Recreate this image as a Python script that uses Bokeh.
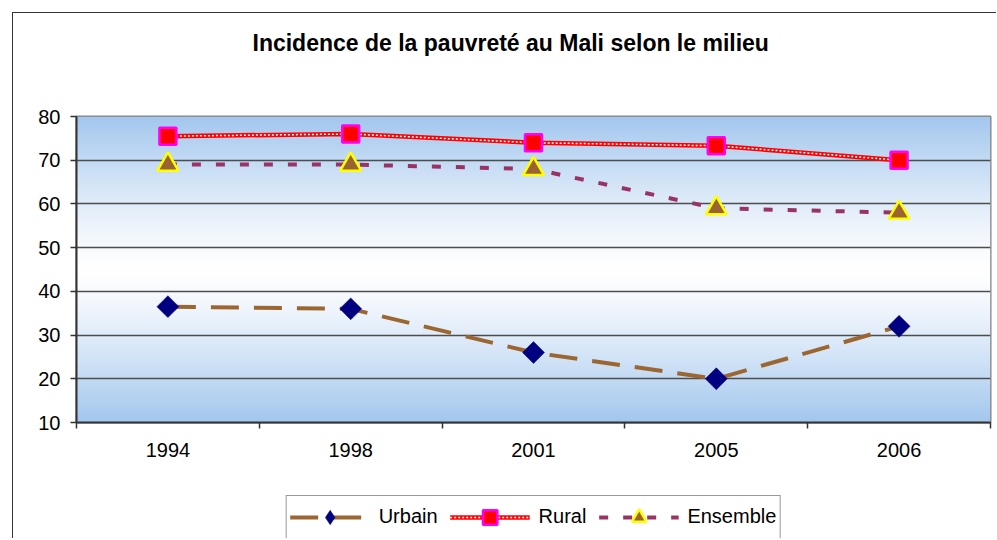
import numpy as np
from bokeh.plotting import figure
from bokeh.layouts import column
from bokeh.models import (Range1d, FixedTicker, Legend, LegendItem, Title)
from bokeh.embed import file_html
from bokeh.resources import INLINE

# ---- data ----
years = ["1994", "1998", "2001", "2005", "2006"]
urbain = [36.5, 36.0, 26.0, 20.0, 32.0]
rural = [75.5, 76.0, 74.0, 73.3, 70.0]
ensemble = [69.0, 69.0, 68.0, 59.0, 58.0]
y_ticks = [10, 20, 30, 40, 50, 60, 70, 80]
title_text = "Incidence de la pauvreté au Mali selon le milieu"

FONT = "Liberation Sans"
BROWN = "#9c6632"
PURPLE = "#993366"
n = len(years)
xs = np.arange(n) + 0.5

p = figure(frame_width=914, frame_height=306, output_backend="svg",
           toolbar_location=None,
           x_range=Range1d(0, n), y_range=Range1d(y_ticks[0], y_ticks[-1]),
           min_border_left=63, min_border_right=6, min_border_top=103,
           min_border_bottom=60)
p.background_fill_color = "white"
p.border_fill_color = "white"
p.outline_line_color = "#808080"
p.outline_line_width = 2

# title (spacer first = closest to the frame, then the title above it)
p.add_layout(Title(text=" ", text_font=FONT, text_font_size="20px",
                   standoff=36), "above")
p.add_layout(Title(text=title_text, text_font=FONT, text_font_size="23px",
                   text_font_style="bold", text_color="black", align="left",
                   offset=176, standoff=0, vertical_align="middle"), "above")

# background gradient (blue - white - blue)
N = 300
t = np.linspace(0, 1, N)
w = np.abs(2 * t - 1) ** 1.3
blue = np.array([163, 199, 238])
rgb = (255 * (1 - w[:, None]) + blue[None, :] * w[:, None]).astype(np.uint32)
img = np.zeros((N, 1), dtype=np.uint32)
img[:, 0] = (255 << 24) | (rgb[:, 2] << 16) | (rgb[:, 1] << 8) | rgb[:, 0]
p.image_rgba(image=[img], x=0, y=y_ticks[0], dw=n, dh=y_ticks[-1] - y_ticks[0],
             level="image")

# axes
p.xaxis.ticker = FixedTicker(ticks=list(xs), minor_ticks=list(range(n + 1)))
p.xaxis.major_label_overrides = {float(x): y for x, y in zip(xs, years)}
p.xaxis.minor_tick_in = 0
p.xaxis.minor_tick_out = 6
p.xaxis.minor_tick_line_color = "#333333"
p.xaxis.minor_tick_line_width = 1.5
p.yaxis.ticker = FixedTicker(ticks=y_ticks)
p.yaxis.major_tick_in = 0
p.yaxis.major_tick_out = 6
p.yaxis.minor_tick_line_color = None
for ax in (p.xaxis, p.yaxis):
    ax.axis_line_color = "#333333"
    ax.axis_line_width = 2
    ax.major_tick_line_width = 1.5
    ax.major_label_text_font = FONT
    ax.major_label_text_font_size = "20px"
    ax.major_label_text_color = "black"
p.yaxis.major_tick_line_color = "#333333"
p.xaxis.major_tick_line_color = None
p.yaxis.major_label_standoff = 10
p.xaxis.major_label_standoff = 14
p.xgrid.grid_line_color = None
p.ygrid.ticker = FixedTicker(ticks=y_ticks)
p.ygrid.grid_line_color = "#4d4d4d"
p.ygrid.grid_line_width = 1.3


def draw_series(fig, for_legend=False):
    lu = fig.line(xs, urbain, line_color=BROWN, line_width=4, line_dash="28 15")
    lr = fig.line(xs, rural, line_color="red", line_width=4.5)
    lr2 = fig.line(xs, rural, line_color="white", line_width=1.5,
                   line_dash="2 2")
    le = fig.line(xs, ensemble, line_color=PURPLE, line_width=4,
                  line_dash="9 15")
    if for_legend:
        mu = fig.scatter(xs, urbain, marker="diamond", size=15.5,
                         fill_color="#000080", line_color="#000080",
                         line_width=0.5)
    else:
        mu = fig.scatter(xs, urbain, marker="square", angle=np.pi / 4,
                         size=15.5, fill_color="#000080",
                         line_color="#000080", line_width=0.5)
    mr = fig.scatter(xs, rural, marker="square", size=17, fill_color="red",
                     line_color="#ff00ff", line_width=2.5)
    me = fig.scatter(xs, ensemble, marker="triangle", size=21,
                     fill_color="#9a6432", line_color="#ffff00", line_width=2.5)
    return [LegendItem(label="Urbain", renderers=[lu, mu]),
            LegendItem(label="Rural", renderers=[lr, lr2, mr]),
            LegendItem(label="Ensemble", renderers=[le, me])]


draw_series(p)

# legend strip: a second figure whose view lies away from the data,
# so only its legend swatches show
pl = figure(frame_width=914, frame_height=43, output_backend="svg",
            toolbar_location=None, x_range=Range1d(100, 101),
            y_range=Range1d(100, 101), x_axis_type=None, y_axis_type=None,
            min_border_left=63, min_border_right=6, min_border_top=13,
            min_border_bottom=0)
pl.outline_line_color = None
pl.background_fill_color = "white"
pl.border_fill_color = "white"
pl.grid.visible = False
items = draw_series(pl, for_legend=True)
legend = Legend(items=items, orientation="horizontal", location="center",
                label_text_font=FONT, label_text_font_size="20px",
                label_text_color="black",
                glyph_width=80, glyph_height=36, label_standoff=9, spacing=12,
                padding=3, margin=0,
                border_line_color="#333333", border_line_width=1,
                background_fill_color="white", background_fill_alpha=1)
pl.add_layout(legend, "center")

layout = column(p, pl, spacing=0, margin=(12, 0, 0, 12),
                styles={"border-left": "1px solid #333333",
                        "border-top": "1px solid #333333"})

open("out.html", "w").write(file_html(layout, INLINE))
